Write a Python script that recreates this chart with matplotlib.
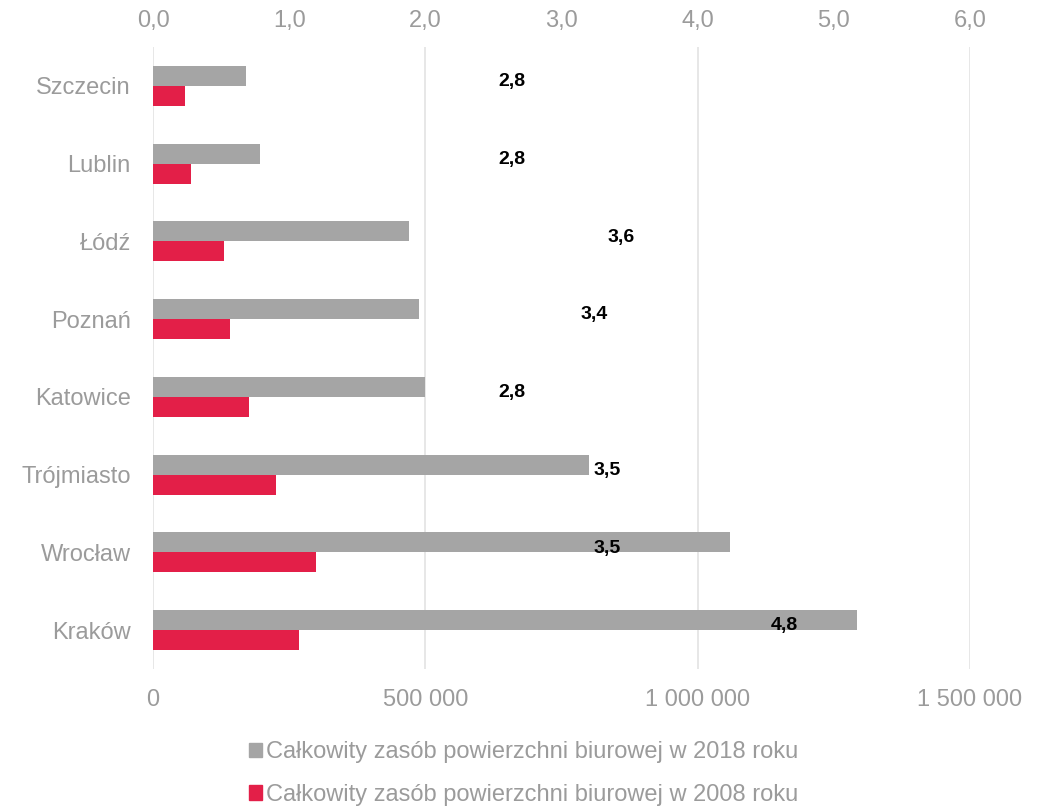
import matplotlib
matplotlib.use('Agg')
import matplotlib.pyplot as plt
from matplotlib.patches import Patch

plt.rcParams['font.family'] = ['Liberation Sans', 'DejaVu Sans']

# data
cities = ["Szczecin", "Lublin", "Łódź", "Poznań", "Katowice", "Trójmiasto", "Wrocław", "Kraków"]
stock_2018 = [170000, 197000, 470000, 489000, 500000, 801000, 1059000, 1293000]
stock_2008 = [59000, 69000, 131000, 142000, 176000, 226000, 299000, 269000]
ratio = [2.8, 2.8, 3.6, 3.4, 2.8, 3.5, 3.5, 4.8]
ratio_labels = ["2,8", "2,8", "3,6", "3,4", "2,8", "3,5", "3,5", "4,8"]

label_2018 = "Całkowity zasób powierzchni biurowej w 2018 roku"
label_2008 = "Całkowity zasób powierzchni biurowej w 2008 roku"

GRAY = "#a5a5a5"
RED = "#e31f48"
TXT = "#9b9b9b"

fig = plt.figure(figsize=(10.38, 8.11), dpi=100)
ax = fig.add_axes([0.1474, 0.1751, 0.787, 0.767])

y = list(range(len(cities)))
h = 0.257
ax.barh([i - h / 2 for i in y], stock_2018, height=h, color=GRAY, zorder=3)
ax.barh([i + h / 2 for i in y], stock_2008, height=h, color=RED, zorder=3)

ax.set_ylim(len(cities) - 0.5, -0.5)
ax.set_yticks(y)
ax.set_yticklabels(cities)
ax.set_xlim(0, 1500000)
ax.set_xticks([0, 500000, 1000000, 1500000])
ax.set_xticklabels(["0", "500 000", "1 000 000", "1 500 000"])
ax.grid(axis='x', color="#e3e3e3", linewidth=1.2, zorder=0)
ax.tick_params(axis='x', length=0, labelsize=17, labelcolor=TXT, pad=14.5)
ax.tick_params(axis='y', length=0, labelsize=17, labelcolor=TXT, pad=16)
for s in ax.spines.values():
    s.set_visible(False)

# secondary top axis with the growth ratio
ax2 = ax.twiny()
ax2.set_xlim(0, 6)
ax2.set_xticks(range(7))
ax2.set_xticklabels([f"{v},0" for v in range(7)])
ax2.tick_params(axis='x', length=0, labelsize=17, labelcolor=TXT, pad=11)
for s in ax2.spines.values():
    s.set_visible(False)

for i, (r, lab) in enumerate(zip(ratio, ratio_labels)):
    ax2.annotate(lab, (r, i), xytext=(-16, 3), textcoords='offset points',
                 ha='center', va='center', fontsize=14, fontweight='bold', color='black')

handles = [Patch(color=GRAY, label=label_2018), Patch(color=RED, label=label_2008)]
fig.legend(handles=handles, loc='upper left', bbox_to_anchor=(0.24, 0.0863),
           frameon=False, fontsize=17, labelcolor=TXT, handlelength=0.55, handleheight=0.55,
           handletextpad=0.15, labelspacing=0.88, borderpad=0, borderaxespad=0)

fig.savefig("out.png", dpi=100)
